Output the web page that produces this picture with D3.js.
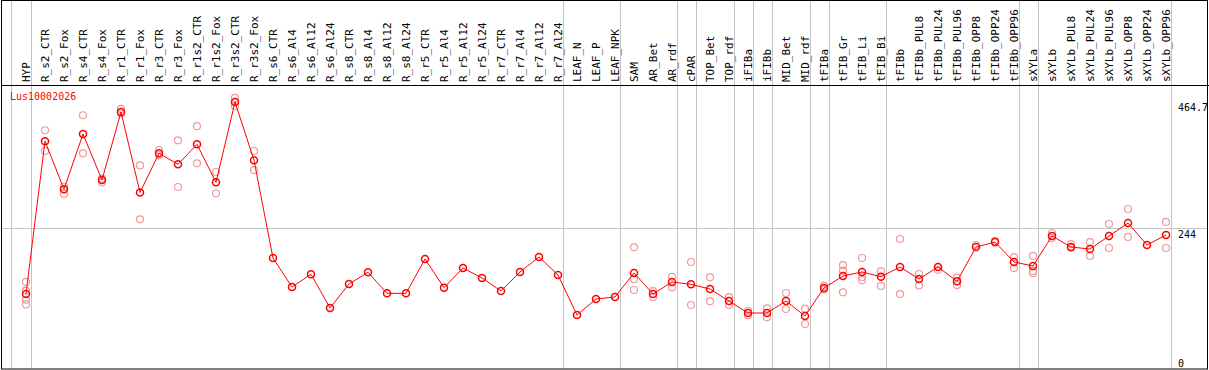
<!DOCTYPE html>
<html><head><meta charset="utf-8">
<script src="https://cdn.jsdelivr.net/npm/d3@7"></script>
<style>body{margin:0;background:#fff}svg{display:block}</style>
</head><body><svg id="c" width="1209" height="370"></svg>
<script>
const categories = ["HYP","R_s2_CTR","R_s2_Fox","R_s4_CTR","R_s4_Fox","R_r1_CTR","R_r1_Fox","R_r3_CTR","R_r3_Fox","R_r1s2_CTR","R_r1s2_Fox","R_r3s2_CTR","R_r3s2_Fox","R_s6_CTR","R_s6_Al4","R_s6_Al12","R_s6_Al24","R_s8_CTR","R_s8_Al4","R_s8_Al12","R_s8_Al24","R_r5_CTR","R_r5_Al4","R_r5_Al12","R_r5_Al24","R_r7_CTR","R_r7_Al4","R_r7_Al12","R_r7_Al24","LEAF_N","LEAF_P","LEAF_NPK","SAM","AR_Bet","AR_rdf","cPAR","TOP_Bet","TOP_rdf","iFIBa","iFIBb","MID_Bet","MID_rdf","tFIBa","tFIB_Gr","tFIB_Li","tFIB_Bi","tFIBb","tFIBb_PUL8","tFIBb_PUL24","tFIBb_PUL96","tFIBb_OPP8","tFIBb_OPP24","tFIBb_OPP96","sXYLa","sXYLb","sXYLb_PUL8","sXYLb_PUL24","sXYLb_PUL96","sXYLb_OPP8","sXYLb_OPP24","sXYLb_OPP96"];
const meanValues = [130,395,311.6,407.5,327.7,445.6,306,374,355,389.6,323.7,463,361.9,192.4,142.2,164.2,105.8,147.4,167.7,131.2,131.2,190.7,141,175.1,157.8,135.3,168.2,194.2,163,93.6,121.4,124.8,166.5,130,150.9,146.8,138.7,117.9,97.1,97.1,117.9,91.9,140.5,161.3,168.2,160,176.9,156,176.9,152,211.5,220,185.5,178.6,230.6,211.5,208,230.6,253,215,232.4];
const replicateValues = [[151,136,120,112],[414,378],[316,303.5],[440,374],[330,323.7],[451,443],[353,259.6],[379.7,371],[396.5,315.6],[421,356.7],[341.6,304.7],[470,456],[378,345],[],[],[],[],[],[],[],[],[],[],[],[],[],[],[],[],[],[],[],[211,156,137],[135,125],[160,141.7],[185.5,111],[159,117.4],[124.8,111],[101,93],[105,89.6],[131.8,104],[104.6,78],[144,138],[180,170.5,133],[192.5,159.5,154],[169.4,144],[225.4,130],[164.7,145],[172],[158.3,145.6],[215],[222],[194,175],[196,170,166.5],[235.8,227],[216.7,209.8],[220,196],[251.4,209.8],[277.4,229],[],[255,209.8]];
const groupBreakAfter = ["HYP","R_r7_Al24","LEAF_NPK","AR_rdf","cPAR","TOP_rdf","iFIBa","iFIBb","MID_rdf","tFIBa","tFIB_Bi","tFIBb_OPP96","sXYLa","sXYLb_OPP96"];
const yTicks = [0,244,464.7];
const geneName = "Lus10002026";

const svg = d3.select("#c");
const W = 1209, headerY = 85, bottomY = 369;
const x = d3.scalePoint().domain(categories).range([26, 1166]);
const y = d3.scaleLinear().domain([0, 464.7]).range([369, 101]);
const grey = "#c4c4c4", mono = "DejaVu Sans Mono, monospace";

// vertical grid lines
const vx = [x(categories[0]) - 15].concat(groupBreakAfter.map(c => x(c) + 4.5));
svg.append("g").selectAll("line").data(vx).join("line")
  .attr("x1", d => Math.round(d) + 0.5).attr("x2", d => Math.round(d) + 0.5)
  .attr("y1", 0).attr("y2", bottomY).attr("stroke", grey).attr("stroke-width", 1);
// horizontal grid line at 244
svg.append("line").attr("x1", 1).attr("x2", W - 1)
  .attr("y1", Math.round(y(244)) + 0.5).attr("y2", Math.round(y(244)) + 0.5)
  .attr("stroke", grey);

// frame
svg.append("rect").attr("x", 1.5).attr("y", 0.5).attr("width", W - 3).attr("height", bottomY - 0.5)
  .attr("fill", "none").attr("stroke", "#000").attr("stroke-width", 1);
svg.append("line").attr("x1", 1).attr("x2", W).attr("y1", headerY + 0.5).attr("y2", headerY + 0.5).attr("stroke", "#000");

// header labels
svg.append("g").selectAll("text").data(categories).join("text")
  .attr("transform", d => `translate(${x(d) + 3.5},82) rotate(-90)`)
  .attr("font-family", mono).attr("font-size", 11).attr("fill", "#000")
  .text(d => d);

// y tick labels
svg.append("g").selectAll("text").data(yTicks).join("text")
  .attr("x", 1178).attr("y", d => Math.min(y(d) + 9.5, 366.5))
  .attr("font-family", mono).attr("font-size", 10).attr("fill", "#000")
  .text(d => d);

// gene name
svg.append("text").attr("x", 10).attr("y", 100).attr("fill", "red")
  .attr("font-family", mono).attr("font-size", 10).text(geneName);

// replicates
const reps = [];
categories.forEach((c, i) => replicateValues[i].forEach(v => reps.push({c, v})));
svg.append("g").selectAll("circle").data(reps).join("circle")
  .attr("cx", d => x(d.c)).attr("cy", d => y(d.v)).attr("r", 3.5)
  .attr("fill", "none").attr("stroke", "#ee9a9a").attr("stroke-width", 1.2);

// mean line
svg.append("path").datum(meanValues)
  .attr("d", d3.line().x((d, i) => x(categories[i])).y(d => y(d)))
  .attr("fill", "none").attr("stroke", "red").attr("stroke-width", 1);
svg.append("g").selectAll("circle").data(meanValues).join("circle")
  .attr("cx", (d, i) => x(categories[i])).attr("cy", d => y(d)).attr("r", 3.5)
  .attr("fill", "none").attr("stroke", "red").attr("stroke-width", 1.5);
</script></body></html>
